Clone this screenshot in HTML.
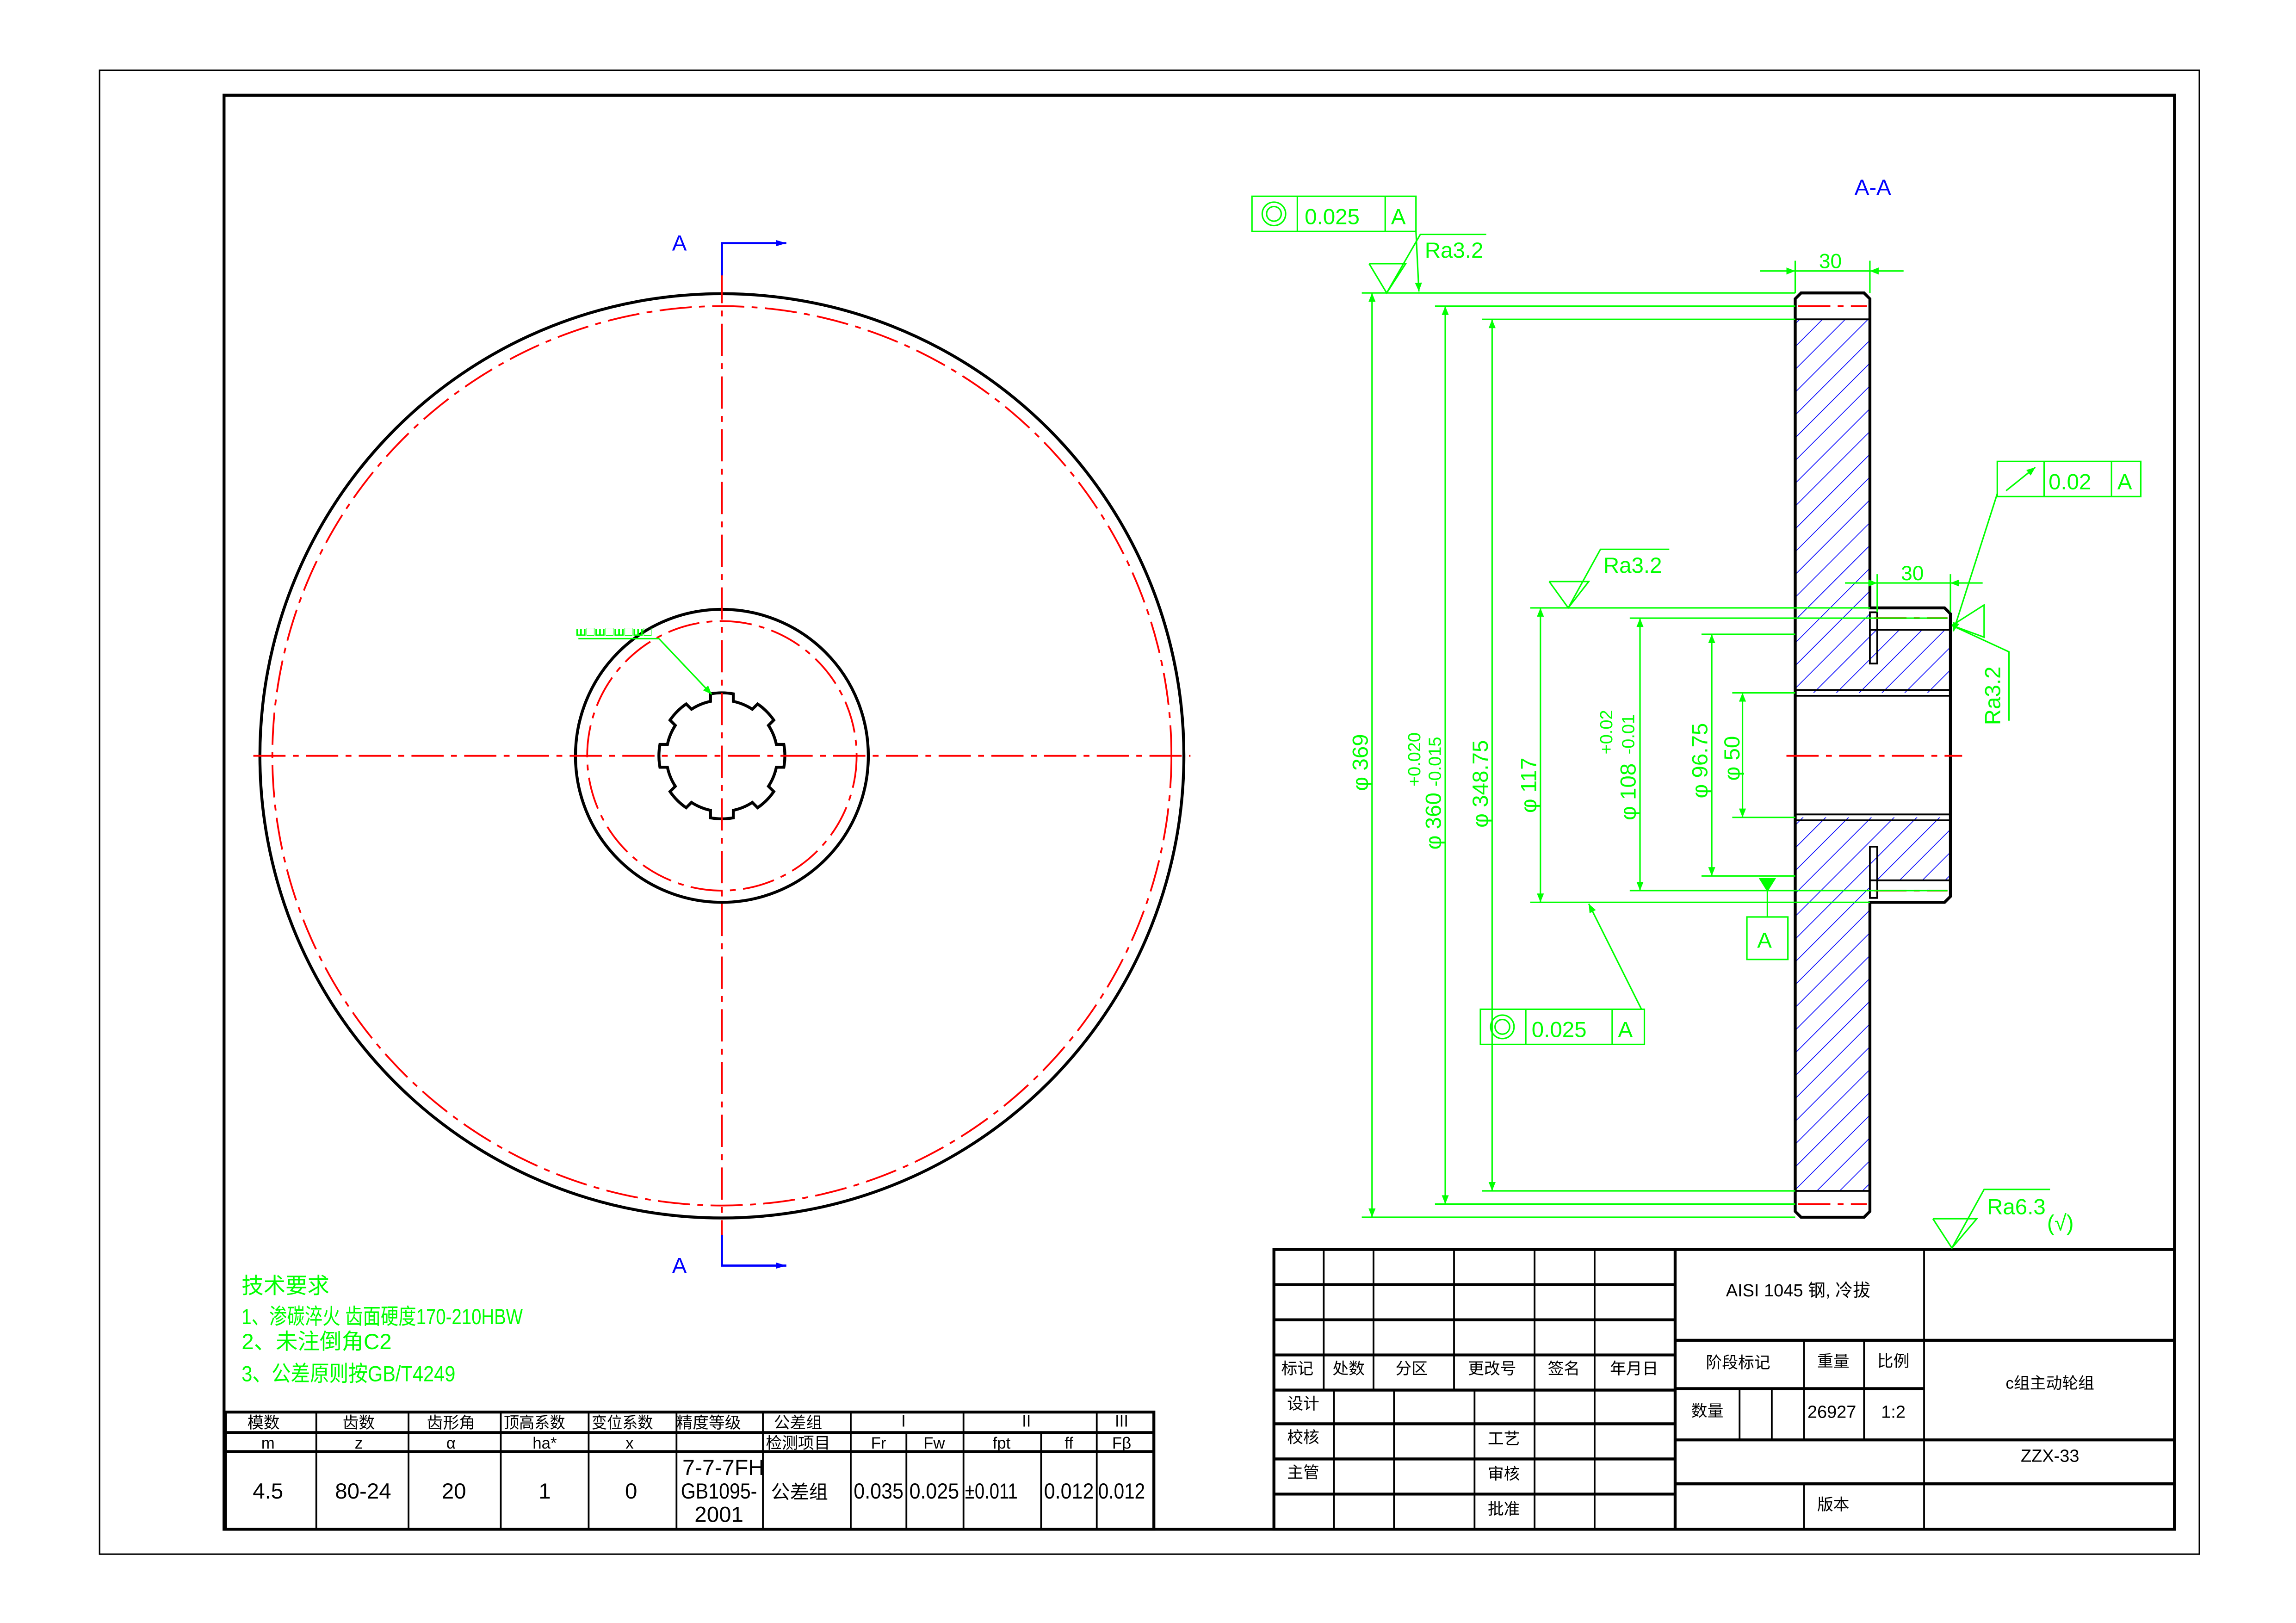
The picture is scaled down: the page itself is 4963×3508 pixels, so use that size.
<!DOCTYPE html>
<html><head><meta charset="utf-8"><style>
html,body{margin:0;padding:0;background:#fff}
svg{display:block}
text{font-family:"Liberation Sans","Noto Sans CJK SC",sans-serif}
.k{stroke:#000;fill:none;stroke-width:2}
.kt{stroke:#000;fill:none;stroke-width:1.2}
.g{stroke:#00ff00;fill:none;stroke-width:1}
.r{stroke:#ff0000;fill:none;stroke-width:1.2;stroke-dasharray:22 5 4 5}
.gt{fill:#00ff00;font-size:15px}
.tt{fill:#000;font-size:11px}
.dt{fill:#000;font-size:15px}
</style></head><body>
<svg width="4963" height="3508" viewBox="0 0 1568 1108" preserveAspectRatio="none" xmlns="http://www.w3.org/2000/svg">
<defs>
<pattern id="h" patternUnits="userSpaceOnUse" width="11" height="11" patternTransform="rotate(-45)">
<line x1="0" y1="0" x2="11" y2="0" stroke="#0000ff" stroke-width="1"/>
</pattern>
<marker id="ar" viewBox="0 0 10 10" refX="10" refY="5" markerWidth="10" markerHeight="6" orient="auto-start-reverse" markerUnits="userSpaceOnUse"><path d="M0,1 L10,5 L0,9 Z" fill="#00ff00"/></marker>
<marker id="ab" viewBox="0 0 10 10" refX="10" refY="5" markerWidth="14" markerHeight="7" orient="auto" markerUnits="userSpaceOnUse"><path d="M0,2 L10,5 L0,8 Z" fill="#0000ff"/></marker>
</defs>
<rect x="0" y="0" width="1568" height="1108" fill="#fff"/>
<!-- frames -->
<rect x="68" y="48" width="1434" height="1013" fill="none" stroke="#000" stroke-width="1"/>
<rect x="153" y="65" width="1332" height="979" fill="none" stroke="#000" stroke-width="2"/>

<!-- front view -->
<circle cx="493" cy="516" r="315.5" class="k"/>
<circle cx="493" cy="516" r="307" class="r"/>
<circle cx="493" cy="516" r="100" class="k"/>
<circle cx="493" cy="516" r="92" class="r"/>
<path id="spl" class="k" d=""/>
<line x1="173" y1="516" x2="813" y2="516" class="r"/>
<line x1="493" y1="185" x2="493" y2="850" class="r"/>
<!-- section markers -->
<polyline points="493,188 493,166 537,166" fill="none" stroke="#0000ff" stroke-width="1.5" marker-end="url(#ab)"/>
<polyline points="493,843 493,864 537,864" fill="none" stroke="#0000ff" stroke-width="1.5" marker-end="url(#ab)"/>
<text x="459" y="171" fill="#0000ff" font-size="15">A</text>
<text x="459" y="869" fill="#0000ff" font-size="15">A</text>
<!-- leader -->
<line x1="395" y1="436" x2="450" y2="436" class="g"/>
<polyline points="450,436 486,474" class="g" marker-end="url(#ar)"/>
<text x="393" y="434" fill="#00ff00" font-size="9" font-weight="bold" textLength="52" lengthAdjust="spacingAndGlyphs">ш□ш□ш□ш□</text>

<!-- technical requirements -->
<text x="165" y="883" class="gt" font-size="14">技术要求</text>
<text x="165" y="904" class="gt" font-size="15" textLength="192" lengthAdjust="spacingAndGlyphs">1、渗碳淬火 齿面硬度170-210HBW</text>
<text x="165" y="921" class="gt" font-size="15">2、未注倒角C2</text>
<text x="165" y="943" class="gt" font-size="15" textLength="146" lengthAdjust="spacingAndGlyphs">3、公差原则按GB/T4249</text>

<!-- gear table -->
<g stroke="#000" fill="none">
<rect x="154" y="964" width="634" height="80" stroke-width="2"/>
<line x1="154" y1="978" x2="788" y2="978" stroke-width="2"/>
<line x1="154" y1="991" x2="788" y2="991" stroke-width="2"/>
<g stroke-width="1.2">
<line x1="216" y1="964" x2="216" y2="1044"/><line x1="279" y1="964" x2="279" y2="1044"/>
<line x1="342" y1="964" x2="342" y2="1044"/><line x1="402" y1="964" x2="402" y2="1044"/>
<line x1="462" y1="964" x2="462" y2="1044"/><line x1="521" y1="964" x2="521" y2="1044"/>
<line x1="581" y1="964" x2="581" y2="1044"/><line x1="619" y1="978" x2="619" y2="1044"/>
<line x1="658" y1="964" x2="658" y2="1044"/><line x1="711" y1="978" x2="711" y2="1044"/>
<line x1="749" y1="964" x2="749" y2="1044"/>
</g></g>
<g class="tt" font-size="12" text-anchor="middle">
<text x="180" y="975">模数</text><text x="245" y="975">齿数</text><text x="308" y="975">齿形角</text>
<text x="365" y="975" textLength="42" lengthAdjust="spacingAndGlyphs">顶高系数</text><text x="425" y="975" textLength="42" lengthAdjust="spacingAndGlyphs">变位系数</text>
<text x="484" y="975" textLength="44" lengthAdjust="spacingAndGlyphs">精度等级</text><text x="545" y="975">公差组</text>
<text x="617" y="974">I</text><text x="701" y="974">II</text><text x="766" y="974">III</text>
<text x="183" y="989">m</text><text x="245" y="989">z</text><text x="308" y="989">α</text>
<text x="372" y="989">ha*</text><text x="430" y="989">x</text><text x="545" y="989" textLength="44" lengthAdjust="spacingAndGlyphs">检测项目</text>
<text x="600" y="989">Fr</text><text x="638" y="989">Fw</text><text x="684" y="989">fpt</text><text x="730" y="989">ff</text><text x="766" y="989">Fβ</text>
<g font-size="15">
<text x="183" y="1023">4.5</text><text x="248" y="1023">80-24</text><text x="310" y="1023">20</text>
<text x="372" y="1023">1</text><text x="431" y="1023">0</text>
<text x="600" y="1023" textLength="34" lengthAdjust="spacingAndGlyphs">0.035</text><text x="638" y="1023" textLength="34" lengthAdjust="spacingAndGlyphs">0.025</text>
<text x="677" y="1023" textLength="36" lengthAdjust="spacingAndGlyphs">±0.011</text><text x="730" y="1023" textLength="34" lengthAdjust="spacingAndGlyphs">0.012</text><text x="766" y="1023" textLength="32" lengthAdjust="spacingAndGlyphs">0.012</text>
<text x="494" y="1007" textLength="56" lengthAdjust="spacingAndGlyphs">7-7-7FH</text>
<text x="491" y="1023" textLength="52" lengthAdjust="spacingAndGlyphs">GB1095-</text>
<text x="491" y="1039">2001</text>
</g>
<text x="546" y="1023" font-size="13">公差组</text>
</g>

<!-- title block -->
<g stroke="#000" fill="none">
<rect x="870" y="853" width="615" height="191" stroke-width="2"/>
<g stroke-width="2">
<line x1="870" y1="877" x2="1144" y2="877"/><line x1="870" y1="901" x2="1144" y2="901"/>
<line x1="870" y1="925" x2="1144" y2="925"/><line x1="870" y1="949" x2="1144" y2="949"/>
<line x1="870" y1="972" x2="1144" y2="972"/><line x1="870" y1="996" x2="1144" y2="996"/>
<line x1="870" y1="1020" x2="1144" y2="1020"/>
<line x1="1144" y1="915" x2="1485" y2="915"/><line x1="1144" y1="948" x2="1314" y2="948"/>
<line x1="1144" y1="983" x2="1485" y2="983"/><line x1="1144" y1="1013" x2="1485" y2="1013"/>
<line x1="1144" y1="853" x2="1144" y2="1044"/>
</g>
<g stroke-width="1.2">
<line x1="904" y1="853" x2="904" y2="949"/><line x1="938" y1="853" x2="938" y2="949"/>
<line x1="993" y1="853" x2="993" y2="949"/><line x1="1048" y1="853" x2="1048" y2="1044"/>
<line x1="1089" y1="853" x2="1089" y2="1044"/>
<line x1="911" y1="949" x2="911" y2="1044"/><line x1="952" y1="949" x2="952" y2="1044"/>
<line x1="1007" y1="949" x2="1007" y2="1044"/>
<line x1="1314" y1="853" x2="1314" y2="1044"/>
<line x1="1232" y1="915" x2="1232" y2="983"/><line x1="1273" y1="915" x2="1273" y2="983"/>
<line x1="1188" y1="948" x2="1188" y2="983"/><line x1="1210" y1="948" x2="1210" y2="983"/>
<line x1="1232" y1="1013" x2="1232" y2="1044"/>
</g></g>
<g class="tt" font-size="10" text-anchor="middle">
<text x="886" y="938">标记</text><text x="921" y="938">处数</text><text x="964" y="938">分区</text>
<text x="1019" y="938">更改号</text><text x="1068" y="938">签名</text><text x="1116" y="938">年月日</text>
<text x="890" y="962">设计</text><text x="890" y="985">校核</text><text x="890" y="1009">主管</text>
<text x="1027" y="986">工艺</text><text x="1027" y="1010">审核</text><text x="1027" y="1034">批准</text>
<text x="1228" y="885" font-size="12">AISI 1045 钢, 冷拔</text>
<text x="1187" y="934">阶段标记</text><text x="1252" y="933">重量</text><text x="1293" y="933">比例</text>
<text x="1166" y="967">数量</text><text x="1251" y="968" font-size="12">26927</text><text x="1293" y="968" font-size="12">1:2</text>
<text x="1400" y="948" font-size="11">c组主动轮组</text>
<text x="1400" y="998" font-size="12">ZZX-33</text>
<text x="1252" y="1031">版本</text>
</g>

<!-- section view A-A -->
<text x="1279" y="133" fill="#0000ff" font-size="15" text-anchor="middle">A-A</text>
<!-- hatch regions -->
<path d="M1226,218 H1277 V430 H1332 V473 H1226 Z" fill="url(#h)"/>
<path d="M1226,558 H1332 V601 H1277 V813 H1226 Z" fill="url(#h)"/>
<!-- outlines -->
<path class="k" d="M1230,200 H1273 L1277,204 V415 H1328 L1332,419 V612 L1328,616 H1277 V827 L1273,831 H1230 L1226,827 V204 Z"/>
<g class="kt">
<line x1="1226" y1="218" x2="1277" y2="218"/><line x1="1226" y1="813" x2="1277" y2="813"/>
<line x1="1277" y1="430" x2="1332" y2="430"/><line x1="1277" y1="601" x2="1332" y2="601"/>
<line x1="1226" y1="471" x2="1332" y2="471"/><line x1="1226" y1="475" x2="1332" y2="475"/>
<line x1="1226" y1="556" x2="1332" y2="556"/><line x1="1226" y1="560" x2="1332" y2="560"/>
<rect x="1277" y="418" width="5" height="35"/><rect x="1277" y="578" width="5" height="35"/>
</g>
<g class="r" stroke-width="1">
<line x1="1228" y1="209" x2="1275" y2="209"/><line x1="1228" y1="822" x2="1275" y2="822"/>
<line x1="1280" y1="422" x2="1330" y2="422"/><line x1="1280" y1="608" x2="1330" y2="608"/>
<line x1="1220" y1="516" x2="1340" y2="516"/>
</g>

<!-- dimensions -->
<g class="g">
<line x1="930" y1="200" x2="1226" y2="200"/><line x1="930" y1="831" x2="1226" y2="831"/>
<line x1="980" y1="209" x2="1226" y2="209"/><line x1="980" y1="822" x2="1226" y2="822"/>
<line x1="1012" y1="218" x2="1226" y2="218"/><line x1="1012" y1="813" x2="1226" y2="813"/>
<line x1="937" y1="200" x2="937" y2="831" marker-start="url(#ar)" marker-end="url(#ar)"/>
<line x1="987" y1="209" x2="987" y2="822" marker-start="url(#ar)" marker-end="url(#ar)"/>
<line x1="1019" y1="218" x2="1019" y2="813" marker-start="url(#ar)" marker-end="url(#ar)"/>
<line x1="1045" y1="415" x2="1277" y2="415"/><line x1="1045" y1="616" x2="1277" y2="616"/>
<line x1="1052" y1="415" x2="1052" y2="616" marker-start="url(#ar)" marker-end="url(#ar)"/>
<line x1="1113" y1="422" x2="1330" y2="422"/><line x1="1113" y1="608" x2="1330" y2="608"/>
<line x1="1120" y1="422" x2="1120" y2="608" marker-start="url(#ar)" marker-end="url(#ar)"/>
<line x1="1162" y1="433" x2="1226" y2="433"/><line x1="1162" y1="598" x2="1226" y2="598"/>
<line x1="1169" y1="433" x2="1169" y2="598" marker-start="url(#ar)" marker-end="url(#ar)"/>
<line x1="1183" y1="473" x2="1226" y2="473"/><line x1="1183" y1="558" x2="1226" y2="558"/>
<line x1="1190" y1="473" x2="1190" y2="558" marker-start="url(#ar)" marker-end="url(#ar)"/>
<!-- top 30 -->
<line x1="1226" y1="178" x2="1226" y2="200"/><line x1="1277" y1="178" x2="1277" y2="200"/>
<line x1="1202" y1="185" x2="1226" y2="185" marker-end="url(#ar)"/>
<line x1="1300" y1="185" x2="1277" y2="185" marker-end="url(#ar)"/>
<line x1="1226" y1="185" x2="1277" y2="185"/>
<!-- hub 30 -->
<line x1="1282" y1="392" x2="1282" y2="418"/><line x1="1332" y1="392" x2="1332" y2="418"/>
<line x1="1260" y1="398" x2="1282" y2="398" marker-end="url(#ar)"/>
<line x1="1354" y1="398" x2="1332" y2="398" marker-end="url(#ar)"/>
<line x1="1282" y1="398" x2="1332" y2="398"/>
<!-- top Ra -->
<polyline points="935,180 960,180 947,200 935,180"/>
<polyline points="947,200 970,160 1015,160"/>
<!-- top tolerance frame -->
<rect x="855" y="134" width="112" height="24"/><line x1="886" y1="134" x2="886" y2="158"/><line x1="946" y1="134" x2="946" y2="158"/>
<circle cx="870" cy="146" r="8"/><circle cx="870" cy="146" r="5"/>
<line x1="967" y1="158" x2="969" y2="199" marker-end="url(#ar)"/>
<!-- mid Ra -->
<polyline points="1058,397 1085,397 1071,415 1058,397"/>
<polyline points="1071,415 1093,375 1140,375"/>
<!-- right tolerance frame -->
<rect x="1364" y="315" width="98" height="24"/><line x1="1396" y1="315" x2="1396" y2="339"/><line x1="1442" y1="315" x2="1442" y2="339"/>
<line x1="1370" y1="335" x2="1390" y2="319" marker-end="url(#ar)"/>
<line x1="1364" y1="337" x2="1334" y2="431" marker-end="url(#ar)"/>
<!-- right Ra rotated -->
<polyline points="1333,427 1355,413 1355,435 1333,427"/>
<polyline points="1333,427 1372,445 1372,492"/>
<!-- datum A -->
<path d="M1202,600 H1212 L1207,608 Z" fill="#00ff00"/>
<line x1="1207" y1="604" x2="1207" y2="626"/>
<rect x="1193" y="626" width="28" height="29"/>
<!-- lower tolerance frame -->
<rect x="1011" y="689" width="112" height="24"/><line x1="1042" y1="689" x2="1042" y2="713"/><line x1="1101" y1="689" x2="1101" y2="713"/>
<circle cx="1026" cy="701" r="8"/><circle cx="1026" cy="701" r="5"/>
<line x1="1121" y1="689" x2="1085" y2="617" marker-end="url(#ar)"/>
<!-- bottom Ra6.3 -->
<polyline points="1320,832 1350,832 1333,852 1320,832"/>
<polyline points="1333,852 1355,812 1400,812"/>
</g>
<g class="gt" font-size="16">
<text x="891" y="153">0.025</text><text x="950" y="153">A</text>
<text x="973" y="176">Ra3.2</text>
<text x="1095" y="391">Ra3.2</text>
<text x="1399" y="334">0.02</text><text x="1446" y="334">A</text>
<text x="1046" y="708">0.025</text><text x="1105" y="708">A</text>
<text x="1200" y="647">A</text>
<text x="1357" y="829">Ra6.3</text><text x="1398" y="840">(√)</text>
<text x="1250" y="183" font-size="14" text-anchor="middle">30</text>
<text x="1306" y="396" font-size="14" text-anchor="middle">30</text>
</g>
<g class="gt" font-size="14">
<text transform="translate(934,540) rotate(-90)">φ 369</text>
<text transform="translate(984,580) rotate(-90)">φ 360</text>
<text transform="translate(970,537) rotate(-90)" font-size="12">+0.020</text>
<text transform="translate(984,537) rotate(-90)" font-size="12">-0.015</text>
<text transform="translate(1016,565) rotate(-90)">φ 348.75</text>
<text transform="translate(1049,555) rotate(-90)">φ 117</text>
<text transform="translate(1117,560) rotate(-90)">φ 108</text>
<text transform="translate(1101,515) rotate(-90)" font-size="12">+0.02</text>
<text transform="translate(1116,515) rotate(-90)" font-size="12">-0.01</text>
<text transform="translate(1166,545) rotate(-90)">φ 96.75</text>
<text transform="translate(1188,533) rotate(-90)">φ 50</text>
<text transform="translate(1366,495) rotate(-90)" font-size="15">Ra3.2</text>
</g>
</svg>
<script>
(function(){
var cx=493,cy=516,R=43,r=38,w=7.8;
var a=Math.sqrt(r*r-w*w),b=Math.sqrt(R*R-w*w),d="";
function P(t,rad,off){var c=Math.cos(t),s=Math.sin(t);return (cx+rad*c-off*s).toFixed(2)+","+(cy+rad*s+off*c).toFixed(2);}
for(var k=0;k<8;k++){var t=k*Math.PI/4;var tn=(k+1)*Math.PI/4;
 d+=(k==0?"M":"L")+P(t,a,-w)+" L"+P(t,b,-w)+" A"+R+","+R+" 0 0 1 "+P(t,b,w)+" L"+P(t,a,w)+" A"+r+","+r+" 0 0 1 "+P(tn,a,-w)+" ";}
document.getElementById("spl").setAttribute("d",d+"Z");
})();
</script>
</body></html>
